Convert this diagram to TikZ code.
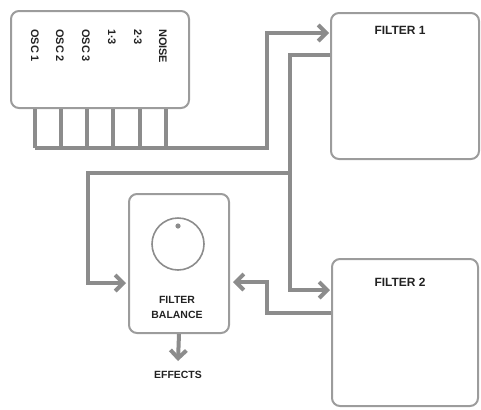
\documentclass[tikz,border=0pt]{standalone}
\usepackage{fontspec}
\setmainfont{Liberation Sans}
\usetikzlibrary{arrows.meta,calc}
\definecolor{lc}{HTML}{8C8C8C}
\definecolor{bc}{HTML}{9C9C9C}
\definecolor{tc}{HTML}{222222}
\tikzset{
  box/.style={draw=bc, line width=2bp, rounded corners=8bp, anchor=north west, inner sep=0pt},
  conn/.style={draw=lc, line width=4bp},
  arr/.style={-{Straight Barb[length=8bp,width=16bp]}},
  lbl/.style={text=tc, font=\bfseries\fontsize{10.5}{12}\selectfont, inner sep=0pt},
  ttl/.style={text=tc, font=\bfseries\fontsize{12}{14}\selectfont, inner sep=0pt},
  osclbl/.style={lbl, font=\bfseries\fontsize{11}{12}\selectfont, rotate=-90, anchor=west},
}
\begin{document}
\begin{tikzpicture}[x=1bp,y=-1bp]
\useasboundingbox (0,0) rectangle (481,409);
% boxes
\node[box, minimum width=178bp, minimum height=97bp] (osc) at (10,10) {};
\node[box, minimum width=148bp, minimum height=146bp] (filter1) at (330,12) {};
\node[box, minimum width=146bp, minimum height=147bp] (filter2) at (331,258) {};
\node[box, minimum width=100bp, minimum height=139bp] (balance) at (128,193) {};
% osc labels
\node[osclbl] (l1) at (35,29) {OSC 1};
\node[osclbl] (l2) at (60,29) {OSC 2};
\node[osclbl] (l3) at (86,29) {OSC 3};
\node[osclbl] (l4) at (112,29) {1·3};
\node[osclbl] (l5) at (138,29) {2·3};
\node[osclbl] (l6) at (163,29) {NOISE};
% titles
\node[ttl] (t1) at (400,30) {FILTER 1};
\node[ttl] (t2) at (400,282) {FILTER 2};
\node[lbl] (b1) at (177,300) {FILTER};
\node[lbl] (b2) at (177,315) {BALANCE};
% knob
\draw[draw=lc, line width=1.6bp] (178,244) circle[radius=26bp];
\fill[lc] (178,226) circle[radius=2.6bp];
% tabs
\coordinate (busL) at (35,148);
\foreach \x in {35,61,87,113,140,166}
  \draw[conn] (\x,0 |- osc.south) -- (\x,148);
% bus to filter 1
\coordinate (busR) at (267,33);
\draw[conn,arr] (busL) -| (busR) -- ($(filter1.west |- busR)+(-1,0)$);
% filter 1 to filter 2
\coordinate (f1v) at (290,290);
\draw[conn,arr] (filter1.west |- 0,55) -| (f1v) -- ($(filter2.west |- f1v)+(-1,0)$);
% branch to balance
\coordinate (br) at (290,173);
\coordinate (brd) at (88,283);
\draw[conn,arr] (br) -| (brd) -- ($(balance.west |- brd)+(-2,0)$);
% filter 2 back to balance
\coordinate (f2v) at (267,282);
\draw[conn,arr] (filter2.west |- 0,313) -| (f2v) -- ($(balance.east |- f2v)+(3,0)$);
% effects
\node[lbl] (fx) at (178,375) {EFFECTS};
\coordinate (fxtop) at (178,361);
\draw[conn,arr] (balance.south) -- (fxtop);
\end{tikzpicture}
\end{document}
